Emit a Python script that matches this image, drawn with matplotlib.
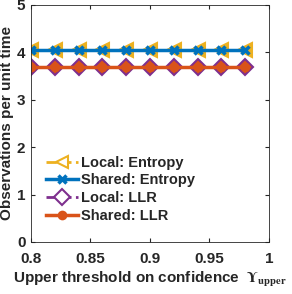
import matplotlib
matplotlib.use("Agg")
import matplotlib.pyplot as plt
import numpy as np

x = [0.80, 0.82, 0.84, 0.86, 0.88, 0.90, 0.92, 0.94, 0.96, 0.98]
local_entropy = [4.06, 4.06, 4.06, 4.06, 4.06, 4.06, 4.06, 4.06, 4.06, 4.06]
shared_entropy = [4.06, 4.06, 4.06, 4.06, 4.06, 4.06, 4.06, 4.06, 4.06, 4.06]
local_llr = [3.69, 3.69, 3.69, 3.69, 3.69, 3.69, 3.69, 3.69, 3.69, 3.69]
shared_llr = [3.69, 3.69, 3.69, 3.69, 3.69, 3.69, 3.69, 3.69, 3.69, 3.69]
xticks = [0.8, 0.85, 0.9, 0.95, 1.0]
xticklabels = ["0.8", "0.85", "0.9", "0.95", "1"]
yticks = [0, 1, 2, 3, 4, 5]

plt.rcParams['font.family'] = ['Liberation Sans', 'DejaVu Sans']
plt.rcParams['font.weight'] = 'bold'

fig = plt.figure(figsize=(2.92, 2.94), dpi=100)
ax = fig.add_axes([0.106, 0.177, 0.815, 0.806])

c_blue = '#0072BD'
c_orange = '#D95319'
c_yellow = '#EDB120'
c_purple = '#7E2F8E'

ax.plot(x, local_entropy, '--', color=c_yellow, marker='<', markersize=10,
        markerfacecolor=c_yellow, markeredgewidth=1.5, linewidth=2, label='Local: Entropy')
ax.plot(x, shared_entropy, '-', color=c_blue, marker='x', markersize=6,
        markeredgewidth=2.5, linewidth=2.5, label='Shared: Entropy')
ax.plot(x, local_llr, '--', color=c_purple, marker='D', markersize=8,
        markerfacecolor=c_orange, markeredgewidth=1.5, linewidth=2, label='Local: LLR')
ax.plot(x, shared_llr, '-', color=c_orange, marker='o', markersize=7,
        markerfacecolor=c_orange, markeredgewidth=0, linewidth=2.5, label='Shared: LLR')

ax.set_xlim(0.8, 1.0)
ax.set_ylim(0, 5)
ax.set_xticks(xticks)
ax.set_xticklabels(xticklabels)
ax.set_yticks(yticks)
ax.tick_params(direction='in', top=True, right=True, labelsize=11, length=3,
               color='#262626', labelcolor='#262626')
ax.tick_params(axis='x', pad=7)
ax.tick_params(axis='y', pad=4)
for s in ax.spines.values():
    s.set_color('#262626')
    s.set_linewidth(0.6)

ax.set_xlabel(r'Upper threshold on confidence  $\Upsilon_{\mathsf{upper}}$', fontsize=11,
              fontweight='bold', color='#262626', labelpad=3, math_fontfamily='stix')
ax.set_ylabel('Observations per unit time', fontsize=11, fontweight='bold',
              color='#262626', labelpad=2)

leg = ax.legend(loc='lower left', frameon=False, fontsize=10.5, handlelength=2.2,
                handletextpad=0.2, labelspacing=0.25, borderaxespad=0.6,
                bbox_to_anchor=(0.0, 0.02))
for t in leg.get_texts():
    t.set_fontweight('bold')
    t.set_color('#262626')
hs = leg.legend_handles
hs[0].set_markerfacecolor('white')
hs[2].set_markerfacecolor('white')
hs[0].set_markersize(9)
hs[2].set_markersize(8)

fig.savefig('out.png', dpi=100)
